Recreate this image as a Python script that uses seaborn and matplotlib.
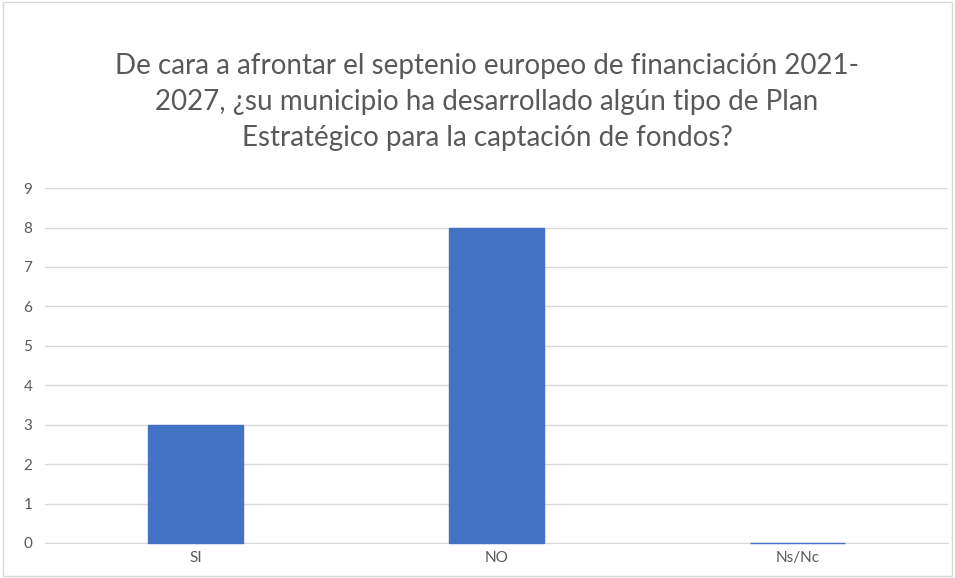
import matplotlib
matplotlib.use('Agg')
import matplotlib.pyplot as plt
import seaborn as sns
import pandas as pd

# datos del gráfico
categorias = ['SI', 'NO', 'Ns/Nc']
respuestas = [3, 8, 0]
ticks_y = list(range(0, 10))

titulo = ('De cara a afrontar el septenio europeo de financiación 2021-\n'
          '2027, ¿su municipio ha desarrollado algún tipo de Plan\n'
          'Estratégico para la captación de fondos?')

df = pd.DataFrame({'categoria': categorias, 'valor': respuestas})

sns.set_style('white')
plt.rcParams['font.family'] = ['Lato', 'DejaVu Sans']

fig = plt.figure(figsize=(9.55, 5.78), dpi=100)
ax = fig.add_axes([0.047, 0.0606, 0.946, 0.614])

sns.barplot(data=df, x='categoria', y='valor', color='#4472C4',
            width=0.316, ax=ax, edgecolor='#4472C4', linewidth=1,
            saturation=1)
for p in ax.patches:
    p.set_zorder(4)
    p.set_clip_on(False)

ax.set_ylim(0, 9)
ax.set_yticks(ticks_y)
ax.yaxis.grid(True, color='#d9d9d9', linewidth=1)
ax.set_axisbelow(True)
ax.set_xlabel('')
ax.set_ylabel('')
for s in ['top', 'right', 'left']:
    ax.spines[s].set_visible(False)
ax.spines['bottom'].set_color('#d9d9d9')
ax.tick_params(axis='both', length=0, labelsize=11, colors='#595959')
ax.tick_params(axis='y', pad=9)
ax.tick_params(axis='x', pad=6)

fig.text(0.51, 0.908, titulo, ha='center', va='top', fontsize=20,
         color='#595959', linespacing=1.47)

# marco del gráfico
fig.patches.append(plt.Rectangle((0.003, 0.003), 0.994, 0.994, transform=fig.transFigure,
                                 fill=False, edgecolor='#d9d9d9', linewidth=1))

plt.savefig('out.png', dpi=100)
